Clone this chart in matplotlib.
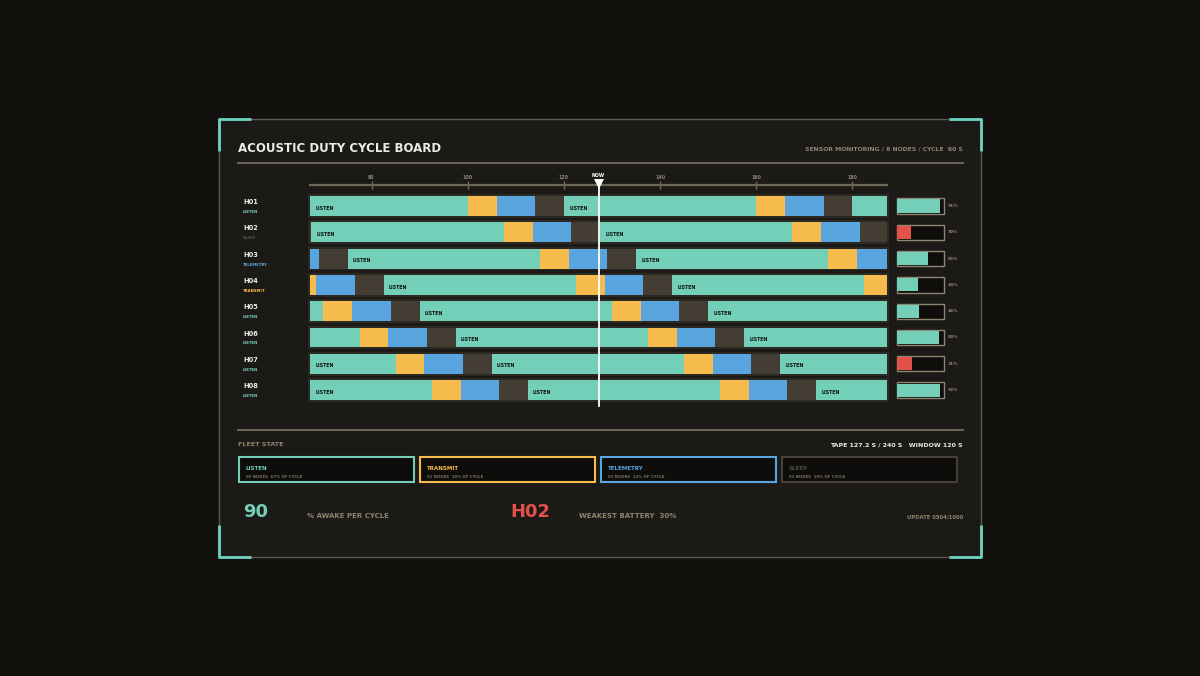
import matplotlib
matplotlib.use('Agg')
import matplotlib.pyplot as plt
from matplotlib.patches import Rectangle

# ---------------- data ----------------
NODES = ['H01', 'H02', 'H03', 'H04', 'H05', 'H06', 'H07', 'H08']
NODE_STATE = ['LISTEN', 'SLEEP', 'TELEMETRY', 'TRANSMIT', 'LISTEN', 'LISTEN', 'LISTEN', 'LISTEN']
PHASE = [0.0, 7.5, 15.0, 22.5, 30.0, 37.5, 45.0, 52.5]      # listen start offset in cycle (s)
STATES = ['LISTEN', 'TRANSMIT', 'TELEMETRY', 'SLEEP']
STATE_DUR = [40, 6, 8, 6]                                  # seconds per 60 s cycle
BATTERY = [91, 30, 65, 44, 46, 89, 31, 92]
TICKS = [80, 100, 120, 140, 160, 180]
NOW = 127.2
WINDOW = 120
TAPE = 240
CYCLE = 60
FLEET_NODES = [5, 1, 1, 1]
FLEET_PCT = [67, 10, 13, 10]
AWAKE = 90
WEAKEST = 'H02'
WEAKEST_BAT = 30
UPDATE = '0504/1000'

# ---------------- style ----------------
BG = '#12110e'
PANEL = '#1c1a16'
TEAL = '#74cfb8'
COL = {'LISTEN': TEAL, 'TRANSMIT': '#f6bc4e', 'TELEMETRY': '#58a5e0', 'SLEEP': '#433d34'}
LABEL_COL = {'LISTEN': TEAL, 'TRANSMIT': '#f6bc4e', 'TELEMETRY': '#58a5e0', 'SLEEP': '#56524a'}
CARD_EDGE = {'LISTEN': TEAL, 'TRANSMIT': '#f6bc4e', 'TELEMETRY': '#58a5e0', 'SLEEP': '#45413a'}
RED = '#e2524b'
GREY = '#8b8670'
LINE = '#6b6856'
WHITE = '#ecebe4'
FONT = 'DejaVu Sans'

plt.rcParams['font.family'] = [FONT]

fig = plt.figure(figsize=(12, 6.76), dpi=100, facecolor=BG)

# overlay in pixel coordinates
ax0 = fig.add_axes([0, 0, 1, 1], zorder=0)
ax0.set_xlim(0, 1200)
ax0.set_ylim(676, 0)
ax0.axis('off')
ax0.set_facecolor(BG)

ax0.add_patch(Rectangle((219, 119), 762, 438, facecolor=PANEL, edgecolor='#5c584c', lw=1.0))
cl = 32
ck = dict(color='#6fd3c3', lw=2.0, solid_capstyle='butt')
ax0.plot([219, 219, 219 + cl], [119 + cl, 119, 119], **ck)
ax0.plot([981 - cl, 981, 981], [119, 119, 119 + cl], **ck)
ax0.plot([219, 219, 219 + cl], [557 - cl, 557, 557], **ck)
ax0.plot([981 - cl, 981, 981], [557, 557, 557 - cl], **ck)

ax0.text(238, 149, 'ACOUSTIC DUTY CYCLE BOARD', fontsize=8.5, fontweight='heavy',
         color=WHITE, va='center', ha='left')
ax0.text(963, 149, f'SENSOR MONITORING / {len(NODES)} NODES / CYCLE  {CYCLE} S', fontsize=4.4,
         fontweight='bold', color=GREY, va='center', ha='right')
ax0.plot([238, 963], [163, 163], color=LINE, lw=1.4)
ax0.plot([238, 963], [430, 430], color=LINE, lw=1.4)

# ---------------- timeline ----------------
ROW_Y0, ROW_H = 206.0, 26.3
top_px = ROW_Y0 - ROW_H / 2
bot_px = ROW_Y0 + ROW_H * 7.5
ax = fig.add_axes([310 / 1200, 1 - bot_px / 676, 577 / 1200, (bot_px - top_px) / 676], zorder=2)
ax.set_facecolor('none')
xmin, xmax = NOW - WINDOW / 2, NOW + WINDOW / 2
ax.set_xlim(xmin, xmax)
ax.set_ylim(len(NODES) - 0.5, -0.5)

for i, ph in enumerate(PHASE):
    ax.add_patch(Rectangle((xmin - 0.5, i - 0.45), WINDOW + 1.0, 0.9, facecolor='#2c2822',
                           edgecolor='none', clip_on=False, zorder=1))
    for k in range(-2, 4):
        t = ph + CYCLE * k
        for s, d in zip(STATES, STATE_DUR):
            ax.barh(i, d, left=t, height=0.76, color=COL[s], lw=0, zorder=2)
            vs, ve = max(t, xmin), min(t + d, xmax)
            if s == 'LISTEN' and ve - vs > 12:
                ax.text(vs + 1.1, i + 0.08, 'LISTEN', fontsize=3.4, fontweight='bold',
                        color='#0e1311', va='center', ha='left', zorder=3)
            t += d

ax.xaxis.tick_top()
ax.set_xticks(TICKS)
ax.set_xticklabels([str(v) for v in TICKS])
ax.set_yticks([])
for sp in ['left', 'right', 'bottom']:
    ax.spines[sp].set_visible(False)
ax.spines['top'].set_position(('outward', 5.6))
ax.spines['top'].set_color(LINE)
ax.spines['top'].set_linewidth(1.6)
ax.tick_params(axis='x', direction='inout', length=5.5, width=1.0, color=LINE,
               labelsize=3.4, labelcolor=GREY, pad=1.2)
for lab in ax.get_xticklabels():
    lab.set_fontweight('bold')

now_line_top = (184 - ROW_Y0) / ROW_H
ax.plot([NOW, NOW], [now_line_top, 7.62], color='white', lw=1.3, clip_on=False, zorder=5)
ax.plot([NOW], [(183.6 - ROW_Y0) / ROW_H], marker='v', ms=7.4, color='white',
        clip_on=False, zorder=6, mew=0)
ax.text(NOW, (175.5 - ROW_Y0) / ROW_H, 'NOW', fontsize=3.4, fontweight='bold',
        color='white', ha='center', va='center', clip_on=False)

# node labels
for i, (n, s) in enumerate(zip(NODES, NODE_STATE)):
    y = ROW_Y0 + ROW_H * i
    ax0.text(243, y - 4, n, fontsize=4.8, fontweight='bold', color=WHITE, va='center', ha='left')
    ax0.text(243, y + 6, s, fontsize=2.8, fontweight='bold', color=LABEL_COL[s],
             va='center', ha='left')

# ---------------- battery ----------------
bx = fig.add_axes([897 / 1200, 1 - bot_px / 676, 47 / 1200, (bot_px - top_px) / 676], zorder=2)
bx.set_facecolor('none')
bx.set_xlim(0, 100)
bx.set_ylim(len(NODES) - 0.5, -0.5)
bx.axis('off')
for i, b in enumerate(BATTERY):
    bx.add_patch(Rectangle((0, i - 0.29), 100, 0.58, facecolor='#0f0e0b', edgecolor='#8a8670',
                           lw=1.0, zorder=1, clip_on=False))
    bx.barh(i, b, left=0, height=0.5, color=RED if b < 40 else TEAL, lw=0, zorder=2,
            clip_on=False)
    bx.text(108, i, f'{b}%', fontsize=3.2, color=GREY, fontweight='bold', va='center',
            ha='left', clip_on=False)

# ---------------- fleet state ----------------
ax0.text(238, 445, 'FLEET STATE', fontsize=4.6, fontweight='bold', color=GREY, va='center')
ax0.text(963, 445, f'TAPE {NOW} S / {TAPE} S   WINDOW {WINDOW} S', fontsize=4.5,
         fontweight='heavy', color=WHITE, va='center', ha='right')
card_x = [239, 420, 601, 782]
for cx, s, n, p in zip(card_x, STATES, FLEET_NODES, FLEET_PCT):
    ax0.add_patch(Rectangle((cx, 457), 175, 25, facecolor='#0e0d0b', edgecolor=CARD_EDGE[s],
                            lw=1.5))
    ax0.text(cx + 7, 468, s, fontsize=4.0, fontweight='bold',
             color=LABEL_COL[s] if s != 'SLEEP' else '#4e4a40', va='center')
    ax0.text(cx + 7, 477, f'{n:02d} NODES  {p}% OF CYCLE', fontsize=2.8, fontweight='bold',
             color='#77735f', va='center')

ax0.text(243, 512, f'{AWAKE}', fontsize=13, fontweight='heavy', color=TEAL, va='center')
ax0.text(307, 516, '% AWAKE PER CYCLE', fontsize=5.0, fontweight='bold', color=GREY, va='center')
ax0.text(510, 512, WEAKEST, fontsize=13, fontweight='heavy', color=RED, va='center')
ax0.text(579, 516, f'WEAKEST BATTERY  {WEAKEST_BAT}%', fontsize=5.0, fontweight='bold',
         color=GREY, va='center')
ax0.text(963, 517, f'UPDATE {UPDATE}', fontsize=3.8, fontweight='bold', color=GREY,
         va='center', ha='right')

fig.savefig('out.png', dpi=100, facecolor=BG)
